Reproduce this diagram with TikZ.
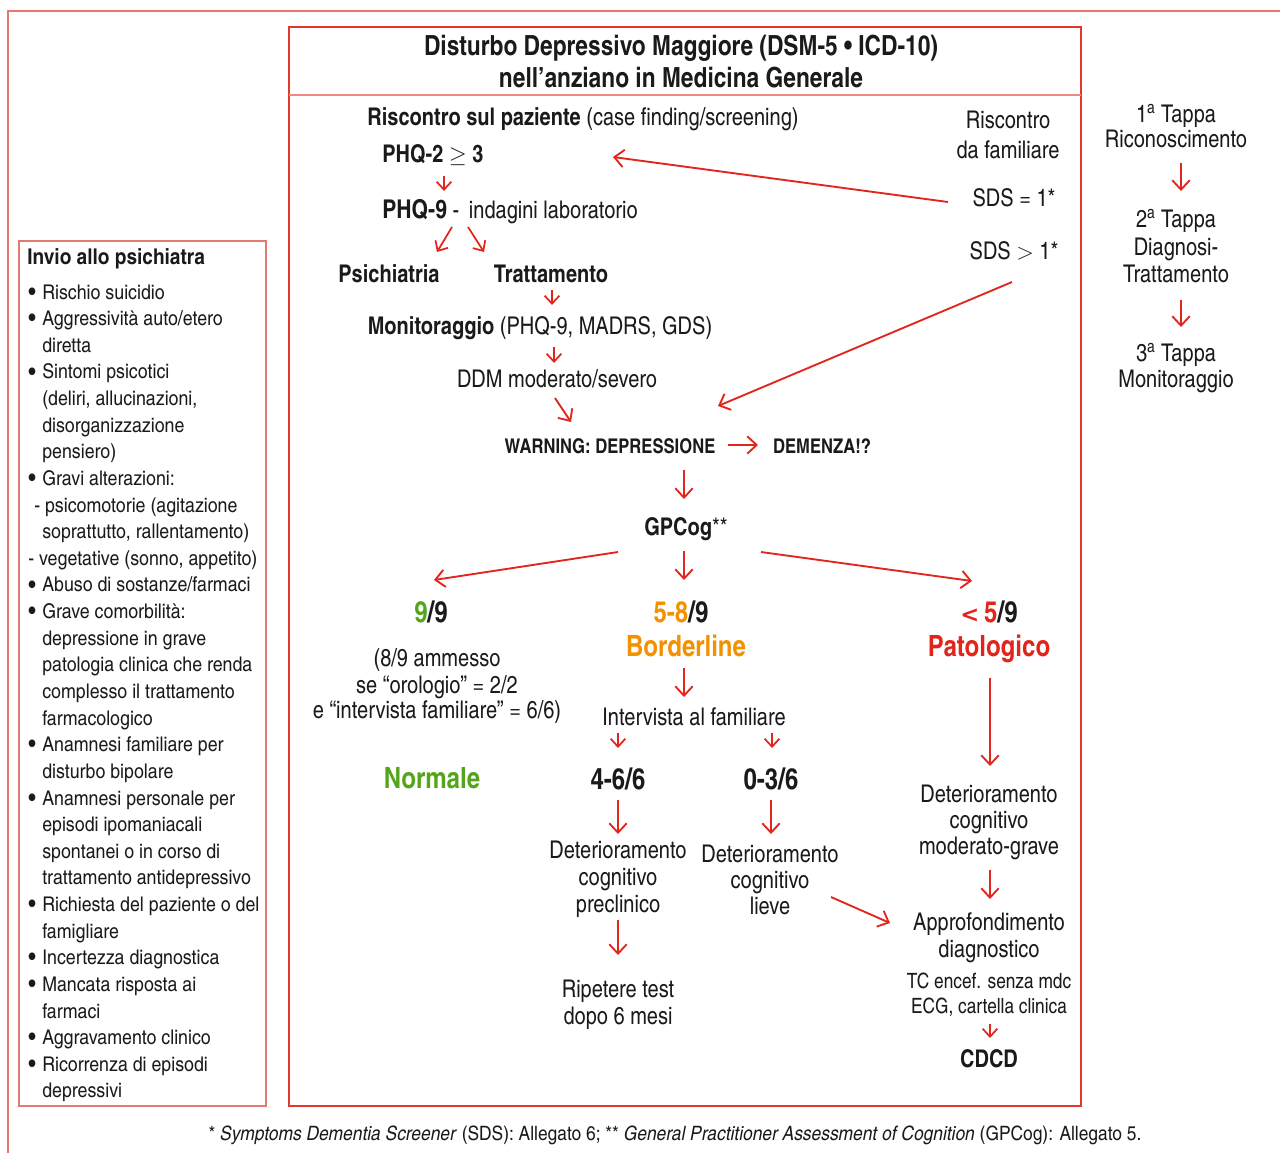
\documentclass[tikz,border=0pt]{standalone}
\usepackage{fontspec}
\setmainfont{texgyreheroscn}[Extension=.otf,UprightFont=*-regular,BoldFont=*-bold,ItalicFont=*-italic,BoldItalicFont=*-bolditalic]
\newfontfamily\widefont{texgyreheroscn}[Extension=.otf,UprightFont=*-regular,BoldFont=*-bold,ItalicFont=*-italic,BoldItalicFont=*-bolditalic,FakeStretch=1.07]
\newfontfamily\symfont{DejaVu Sans}
\usetikzlibrary{arrows.meta}
\definecolor{arrred}{HTML}{E3261D}
\definecolor{boxred}{HTML}{E2392E}
\definecolor{divred}{HTML}{EE8A85}
\definecolor{frred}{HTML}{E8756E}
\definecolor{lbred}{HTML}{E27A72}
\definecolor{txred}{HTML}{E1251B}
\definecolor{txorange}{HTML}{F39200}
\definecolor{txgreen}{HTML}{55A51C}
\definecolor{txblack}{HTML}{1A1A1A}
\newcommand\fstitle{\fontsize{20.8}{24}\selectfont}
\newcommand\fsmain{\fontsize{18.3}{22}\selectfont}
\newcommand\fsphq{\fontsize{19.4}{23}\selectfont}
\newcommand\fsbig{\fontsize{22}{26}\selectfont}
\newcommand\fswarn{\fontsize{15.2}{18}\selectfont}
\newcommand\fssmall{\fontsize{15.8}{19}\selectfont}
\newcommand\fslist{\widefont\fontsize{15.2}{18}\selectfont}
\newcommand\fshead{\widefont\fontsize{16.3}{19}\selectfont}
\newcommand\fsfoot{\widefont\fontsize{14.85}{18}\selectfont}
\newcommand\bul{\llap{\makebox[10.5pt][l]{\raisebox{-0.9pt}{\scalebox{1.2}{•}}}}}
\begin{document}
\begin{tikzpicture}[x=0.75pt,y=-0.75pt,
  tx/.style={inner sep=0pt,anchor=base,font=\fsmain,text=txblack},
  lst/.style={inner sep=0pt,anchor=base west,font=\fslist,text=txblack},
  rc/.style={inner sep=0pt,anchor=base,font=\fsmain,text=txblack},
  arr/.style={draw=arrred,line width=1.4pt,-{Straight Barb[length=7pt,width=13pt,line width=1.4pt]}},
  sarr/.style={draw=arrred,line width=1.3pt,-{Straight Barb[length=6pt,width=11pt,line width=1.3pt]}}]
\useasboundingbox (0,0) rectangle (1280,1153);
\fill[white] (0,0) rectangle (1280,1153);
% frames
\draw[frred,line width=1.6pt] (8,1153) -- (8,11) -- (1280,11);
\draw[boxred,line width=0.9pt] (289,27) rectangle (1081,1106);
\draw[divred,line width=1.6pt] (289,95) -- (1081,95);
\draw[lbred,line width=1.2pt] (19,241) rectangle (266,1106);
% title
\node[tx,font=\fstitle\bfseries] (title1) at (681,55) {Disturbo Depressivo Maggiore (DSM-5 • ICD-10)};
\node[tx,font=\fstitle\bfseries] (title2) at (681,87) {nell’anziano in Medicina Generale};
% top flow
\node[tx] (risc) at (583,125) {\textbf{Riscontro sul paziente} (case finding/screening)};
\node[tx] (fam1) at (1008,128) {Riscontro};
\node[tx] (fam2) at (1008,158) {da familiare};
\node[tx] (sds1) at (1014,206) {SDS = 1*};
\node[tx] (sds2) at (1014,259) {SDS \ensuremath{>} 1*};
\node[tx,anchor=base west] (phq2) at (382,162) {\textbf{PHQ-2 \ensuremath{\geq} 3}};
\node[tx,anchor=base west] (phq9) at (382,218) {{\fsphq\bfseries PHQ-9} - \,indagini laboratorio};
\node[tx,font=\fsmain\bfseries] (psi) at (389,282) {Psichiatria};
\node[tx,font=\fsmain\bfseries] (tratt) at (551,282) {Trattamento};
\node[tx] (monit) at (540,334) {\textbf{Monitoraggio} (PHQ-9, MADRS, GDS)};
\node[tx] (ddm) at (557,387) {DDM moderato/severo};
\node[tx,font=\fswarn\bfseries] (warn) at (610,453) {WARNING: DEPRESSIONE};
\node[tx,font=\fswarn\bfseries] (dem) at (822,453) {DEMENZA!?};
\node[tx] (gpcog) at (686,535) {\textbf{GPCog}**};
% scores
\node[tx,font=\fsbig\bfseries] (s99) at (431,622) {\textcolor{txgreen}{9}/9};
\node[tx,font=\fsbig\bfseries] (s58) at (681,622) {\textcolor{txorange}{5-8}/9};
\node[tx,font=\fsbig\bfseries] (s5) at (989,622) {\textcolor{txred}{{\symfont\fontsize{17}{20}\selectfont\bfseries <}\,5}/9};
\node[tx,font=\fsbig\bfseries,text=txorange] (bord) at (686,656) {Borderline};
\node[tx,font=\fsbig\bfseries,text=txred] (pato) at (989,656) {Patologico};
\node[tx] (amm1) at (437,666) {(8/9 ammesso};
\node[tx] (amm2) at (437,693) {se “orologio” = 2/2};
\node[tx] (amm3) at (437,718) {e “intervista familiare” = 6/6)};
\node[tx] (interv) at (694,725) {Intervista al familiare};
\node[tx,font=\fsbig\bfseries,text=txgreen] (norm) at (432,788) {Normale};
\node[tx,font=\fsbig\bfseries] (s46) at (618,789) {4-6/6};
\node[tx,font=\fsbig\bfseries] (s03) at (771,789) {0-3/6};
\node[tx] (pre1) at (618,858) {Deterioramento};
\node[tx] (pre2) at (618,885) {cognitivo};
\node[tx] (pre3) at (618,912) {preclinico};
\node[tx] (lie1) at (770,862) {Deterioramento};
\node[tx] (lie2) at (770,888) {cognitivo};
\node[tx] (lie3) at (770,914) {lieve};
\node[tx] (rip1) at (618,997) {Ripetere test};
\node[tx] (rip2) at (618,1024) {dopo 6 mesi};
\node[tx] (mod1) at (989,802) {Deterioramento};
\node[tx] (mod2) at (989,828) {cognitivo};
\node[tx] (mod3) at (989,854) {moderato-grave};
\node[tx] (app1) at (989,930) {Approfondimento};
\node[tx] (app2) at (989,957) {diagnostico};
\node[tx,font=\fssmall] (tc1) at (989,988) {TC encef. senza mdc};
\node[tx,font=\fssmall] (tc2) at (989,1013) {ECG, cartella clinica};
\node[tx,font=\fsmain\bfseries] (cdcd) at (989,1067) {CDCD};
% right column
\node[rc] (t1a) at (1176,122) {1\textsuperscript{a} Tappa};
\node[rc] (t1b) at (1176,147) {Riconoscimento};
\node[rc] (t2a) at (1176,227) {2\textsuperscript{a} Tappa};
\node[rc] (t2b) at (1176,255) {Diagnosi-};
\node[rc] (t2c) at (1176,282) {Trattamento};
\node[rc] (t3a) at (1176,361) {3\textsuperscript{a} Tappa};
\node[rc] (t3b) at (1176,387) {Monitoraggio};
% left list
\node[lst,font=\fshead\bfseries] (lh) at (27,264.5) {Invio allo psichiatra};
\node[lst] (l1) at (42,299.0) {\bul Rischio suicidio};
\node[lst] (l2) at (42,325.6) {\bul Aggressività auto/etero};
\node[lst] (l3) at (42,352.3) {diretta};
\node[lst] (l4) at (42,378.9) {\bul Sintomi psicotici};
\node[lst] (l5) at (42,405.5) {(deliri, allucinazioni,};
\node[lst] (l6) at (42,432.2) {disorganizzazione};
\node[lst] (l7) at (42,458.8) {pensiero)};
\node[lst] (l8) at (42,485.4) {\bul Gravi alterazioni:};
\node[lst] (l9) at (34,512.0) {- psicomotorie (agitazione};
\node[lst] (l10) at (42,538.7) {soprattutto, rallentamento)};
\node[lst] (l11) at (28,565.3) {- vegetative (sonno, appetito)};
\node[lst] (l12) at (42,591.9) {\bul Abuso di sostanze/farmaci};
\node[lst] (l13) at (42,618.6) {\bul Grave comorbilità:};
\node[lst] (l14) at (42,645.2) {depressione in grave};
\node[lst] (l15) at (42,671.8) {patologia clinica che renda};
\node[lst] (l16) at (42,698.4) {complesso il trattamento};
\node[lst] (l17) at (42,725.1) {farmacologico};
\node[lst] (l18) at (42,751.7) {\bul Anamnesi familiare per};
\node[lst] (l19) at (42,778.3) {disturbo bipolare};
\node[lst] (l20) at (42,805.0) {\bul Anamnesi personale per};
\node[lst] (l21) at (42,831.6) {episodi ipomaniacali};
\node[lst] (l22) at (42,858.2) {spontanei o in corso di};
\node[lst] (l23) at (42,884.8) {trattamento antidepressivo};
\node[lst] (l24) at (42,911.5) {\bul Richiesta del paziente o del};
\node[lst] (l25) at (42,938.1) {famigliare};
\node[lst] (l26) at (42,964.7) {\bul Incertezza diagnostica};
\node[lst] (l27) at (42,991.4) {\bul Mancata risposta ai};
\node[lst] (l28) at (42,1018.0) {farmaci};
\node[lst] (l29) at (42,1044.6) {\bul Aggravamento clinico};
\node[lst] (l30) at (42,1071.2) {\bul Ricorrenza di episodi};
\node[lst] (l31) at (42,1097.9) {depressivi};
% footnote
\node[tx,font=\fsfoot] (foot) at (675,1140) {* \textit{Symptoms Dementia Screener} (SDS): Allegato 6; ** \textit{General Practitioner Assessment of Cognition} (GPCog): Allegato 5.};
% arrow coordinates
\coordinate (c1s) at (948,202); \coordinate (c1e) at (613,157);
\coordinate (c2s) at (1012,282); \coordinate (c2e) at (718,406);
\coordinate (c3s) at (444,176); \coordinate (c3e) at (444,191);
\coordinate (c4s) at (452,227); \coordinate (c4e) at (437,252);
\coordinate (c5s) at (468,227); \coordinate (c5e) at (484,252);
\coordinate (c6s) at (552,290); \coordinate (c6e) at (552,305);
\coordinate (c7s) at (554,347); \coordinate (c7e) at (554,363);
\coordinate (c8s) at (555,398); \coordinate (c8e) at (571,422);
\coordinate (c9s) at (728,445); \coordinate (c9e) at (758,445);
\coordinate (c10s) at (684,470); \coordinate (c10e) at (684,499);
\coordinate (c11s) at (618,552); \coordinate (c11e) at (434,580);
\coordinate (c12s) at (684,551); \coordinate (c12e) at (684,580);
\coordinate (c13s) at (761,552); \coordinate (c13e) at (972,581);
\coordinate (c14s) at (684,668); \coordinate (c14e) at (684,697);
\coordinate (c15s) at (618,733); \coordinate (c15e) at (618,748);
\coordinate (c16s) at (772,733); \coordinate (c16e) at (772,748);
\coordinate (c17s) at (618,800); \coordinate (c17e) at (618,834);
\coordinate (c18s) at (771,800); \coordinate (c18e) at (771,834);
\coordinate (c19s) at (831,897); \coordinate (c19e) at (890,923);
\coordinate (c20s) at (618,920); \coordinate (c20e) at (618,955);
\coordinate (c21s) at (990,678); \coordinate (c21e) at (990,766);
\coordinate (c22s) at (990,870); \coordinate (c22e) at (990,899);
\coordinate (c23s) at (990,1024); \coordinate (c23e) at (990,1038);
\coordinate (r1s) at (1181,163); \coordinate (r1e) at (1181,191);
\coordinate (r2s) at (1181,300); \coordinate (r2e) at (1181,327);
\draw[arr] (c1s) -- (c1e);
\draw[arr] (c2s) -- (c2e);
\draw[sarr] (c3s) -- (c3e);
\draw[sarr] (c4s) -- (c4e);
\draw[sarr] (c5s) -- (c5e);
\draw[sarr] (c6s) -- (c6e);
\draw[sarr] (c7s) -- (c7e);
\draw[arr] (c8s) -- (c8e);
\draw[arr] (c9s) -- (c9e);
\draw[arr] (c10s) -- (c10e);
\draw[arr] (c11s) -- (c11e);
\draw[arr] (c12s) -- (c12e);
\draw[arr] (c13s) -- (c13e);
\draw[arr] (c14s) -- (c14e);
\draw[sarr] (c15s) -- (c15e);
\draw[sarr] (c16s) -- (c16e);
\draw[arr] (c17s) -- (c17e);
\draw[arr] (c18s) -- (c18e);
\draw[arr] (c19s) -- (c19e);
\draw[arr] (c20s) -- (c20e);
\draw[arr] (c21s) -- (c21e);
\draw[arr] (c22s) -- (c22e);
\draw[sarr] (c23s) -- (c23e);
\draw[arr] (r1s) -- (r1e);
\draw[arr] (r2s) -- (r2e);
\end{tikzpicture}
\end{document}
